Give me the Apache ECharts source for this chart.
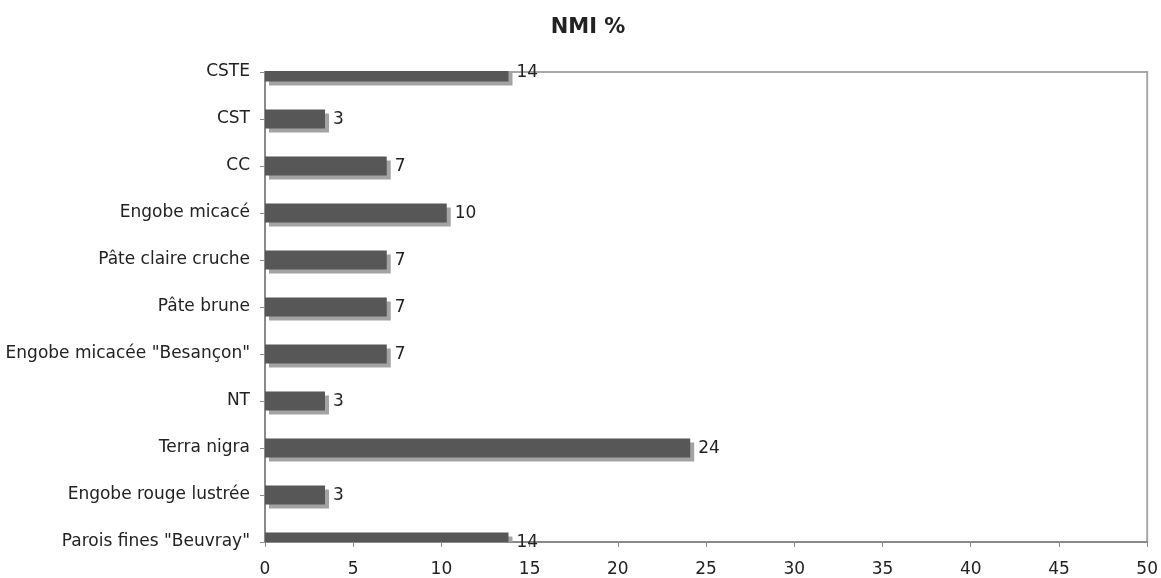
<!DOCTYPE html>
<html>
<head>
<meta charset="utf-8">
<script src="https://cdn.jsdelivr.net/npm/echarts@6/dist/echarts.min.js"></script>
<style>
html,body{margin:0;padding:0;background:#fff;}
#chart{width:1161px;height:578px;}
</style>
</head>
<body>
<div id="chart"></div>
<script>
var categories = ['CSTE', 'CST', 'CC', 'Engobe micacé', 'Pâte claire cruche', 'Pâte brune', 'Engobe micacée "Besançon"', 'NT', 'Terra nigra', 'Engobe rouge lustrée', 'Parois fines "Beuvray"'];
var values = [13.8, 3.4, 6.9, 10.3, 6.9, 6.9, 6.9, 3.4, 24.1, 3.4, 13.8];
var xTicks = [0, 5, 10, 15, 20, 25, 30, 35, 40, 45, 50];

var chart = echarts.init(document.getElementById('chart'), null, {renderer: 'canvas'});
var font = "'DejaVu Sans', Verdana, sans-serif";
var seriesData = values.map(function (v, i) { return [v, i]; });

function renderBar(params, api) {
  var idx = api.value(1);
  var val = api.value(0);
  var start = api.coord([0, idx]);
  var end = api.coord([val, idx]);
  var h = 19, off = 4;
  var cs = params.coordSys;
  var clipBox = {x: cs.x, y: cs.y - 1, width: cs.width, height: cs.height + 1};
  var w = end[0] - start[0];
  var shadow = echarts.graphic.clipRectByRect({x: start[0] + off, y: start[1] - h / 2 + off, width: w, height: h}, clipBox);
  var bar = echarts.graphic.clipRectByRect({x: start[0], y: start[1] - h / 2, width: w, height: h}, clipBox);
  var children = [];
  if (shadow) children.push({type: 'rect', shape: shadow, style: {fill: '#a3a3a3'}});
  if (bar) children.push({type: 'rect', shape: bar, style: {fill: '#575757'}});
  children.push({
    type: 'text', x: end[0] + off + 4, y: start[1] + 1,
    style: {text: String(Math.round(val)), fill: '#222', fontSize: 17, fontFamily: font, verticalAlign: 'middle', align: 'left'}
  });
  return {type: 'group', children: children};
}

chart.setOption({
  animation: false,
  backgroundColor: '#ffffff',
  title: {
    text: 'NMI %',
    left: 583, top: 12, textAlign: 'center',
    textStyle: {fontFamily: font, fontSize: 21, fontWeight: 'bold', color: '#222'}
  },
  grid: {
    left: 265, right: 13, top: 72, bottom: 35,
    show: true, borderColor: '#a8a8a8', borderWidth: 2, backgroundColor: 'transparent'
  },
  xAxis: {
    type: 'value', min: xTicks[0], max: xTicks[xTicks.length - 1], interval: 5,
    axisLine: {show: true, lineStyle: {color: '#8a8a8a', width: 2}},
    axisTick: {show: true, length: 5, lineStyle: {color: '#8a8a8a'}},
    splitLine: {show: false},
    axisLabel: {fontFamily: font, fontSize: 17, color: '#222', margin: 19}
  },
  yAxis: {
    type: 'category', data: categories, inverse: true, boundaryGap: false,
    axisLine: {show: true, lineStyle: {color: '#8a8a8a', width: 2}},
    axisTick: {show: true, length: 5, alignWithLabel: true, lineStyle: {color: '#8a8a8a'}},
    splitLine: {show: false},
    axisLabel: {fontFamily: font, fontSize: 17, color: '#222', margin: 15}
  },
  series: [{
    type: 'custom',
    data: seriesData,
    encode: {x: 0, y: 1},
    renderItem: renderBar,
    z: 1
  }]
});
</script>
</body>
</html>
